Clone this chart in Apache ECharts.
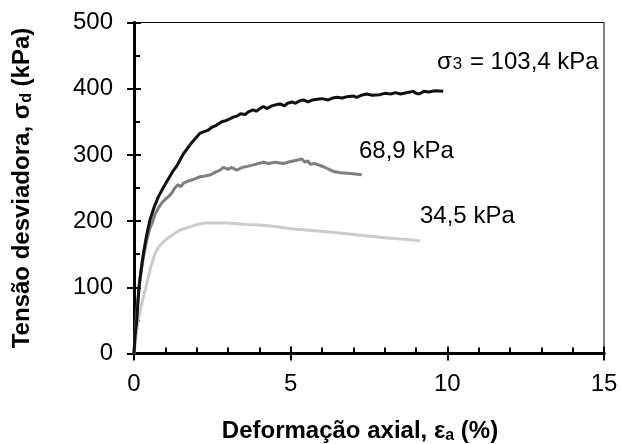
<!DOCTYPE html>
<html>
<head>
<meta charset="utf-8">
<script src="https://cdn.jsdelivr.net/npm/echarts@6/dist/echarts.min.js"></script>
<style>
html,body{margin:0;padding:0;background:#fff;}
#c{width:621px;height:444px;}
</style>
</head>
<body>
<div id="c"></div>
<script>
// ---- data ----
var xTicks = [0, 5, 10, 15];
var yTicks = [0, 100, 200, 300, 400, 500];

var s103x = [0, 0.03, 0.09, 0.16, 0.23, 0.30, 0.40, 0.51, 0.65, 0.78, 0.95, 1.10, 1.25, 1.36, 1.57, 1.80, 2.11, 2.35, 2.50, 2.64, 2.80, 2.95, 3.17, 3.30, 3.40, 3.55, 3.65, 3.80, 3.90, 4.05, 4.13, 4.25, 4.40, 4.55, 4.67, 4.80, 4.90, 5.05, 5.15, 5.30, 5.41, 5.55, 5.70, 5.85, 6.00, 6.20, 6.35, 6.47, 6.65, 6.80, 7.00, 7.10, 7.25, 7.43, 7.60, 7.85, 8.00, 8.20, 8.35, 8.50, 8.70, 8.90, 9.00, 9.10, 9.25, 9.40, 9.60, 9.87];
var s103y = [0, 25, 51, 101, 128, 151, 178, 202, 222, 237, 252, 264, 276, 283, 301, 316, 333, 337, 342, 345, 350, 352, 357, 359, 362, 361, 365, 368, 366, 371, 373, 370, 374, 376, 377, 374, 378, 380, 378, 382, 383, 380, 383, 384, 385, 383, 386, 387, 386, 388, 389, 387, 390, 392, 390, 391, 393, 392, 394, 392, 394, 396, 393, 392, 396, 395, 397, 396];

var s68x = [0, 0.05, 0.12, 0.20, 0.30, 0.40, 0.50, 0.60, 0.67, 0.78, 0.88, 1.00, 1.10, 1.20, 1.30, 1.41, 1.50, 1.57, 1.70, 1.84, 2.00, 2.11, 2.27, 2.45, 2.60, 2.75, 2.85, 3.00, 3.10, 3.28, 3.45, 3.65, 3.90, 4.13, 4.30, 4.50, 4.77, 5.00, 5.20, 5.36, 5.45, 5.55, 5.62, 5.75, 5.94, 6.10, 6.36, 6.60, 6.90, 7.27];
var s68y = [0, 40, 80, 115, 145, 170, 188, 200, 210, 220, 227, 233, 237, 242, 250, 255, 252, 257, 260, 262, 265, 267, 268, 270, 274, 277, 281, 278, 281, 277, 281, 283, 286, 289, 287, 289, 287, 290, 292, 294, 289, 291, 286, 287, 284, 281, 275, 273, 272, 270];

var s34x = [0, 0.04, 0.09, 0.15, 0.20, 0.30, 0.37, 0.46, 0.55, 0.67, 0.80, 0.95, 1.10, 1.31, 1.50, 1.70, 1.84, 2.01, 2.27, 2.60, 2.97, 3.30, 3.60, 4.03, 4.50, 5.09, 5.60, 6.15, 6.80, 7.53, 8.00, 8.50, 8.80, 9.12];
var s34y = [0, 15, 35, 55, 65, 86, 98, 116, 133, 151, 162, 169, 175, 182, 187, 190, 192, 195, 197, 197, 197, 196, 195, 194, 192, 188, 186, 184, 181, 177, 175, 173, 172, 170];

var seriesNames = ['34,5 kPa', '68,9 kPa', '103,4 kPa'];
var seriesColors = ['#cccccc', '#7f7f7f', '#111111'];

function pairs(xs, ys) { return xs.map(function (x, i) { return [x, ys[i]]; }); }

var FONT = 'Liberation Sans, Arial, Helvetica, sans-serif';
var chart = echarts.init(document.getElementById('c'), null, { renderer: 'canvas' });

var gridL = 134, gridR = 17, gridT = 22.5, gridB = 90.5;
var subStyle = { fontFamily: FONT, fontSize: 16, fontWeight: 'bold', color: '#000', verticalAlign: 'bottom', padding: [9, 0, 0, 0] };

// axis with labels + line + outer ticks
function xMain() {
  return {
    type: 'value', min: 0, max: 15, interval: 5, position: 'bottom',
    name: 'Deformação axial, ε{sub|a} (%)',
    nameLocation: 'middle', nameGap: 65,
    nameTextStyle: { fontFamily: FONT, fontSize: 24, fontWeight: 'bold', color: '#000', padding: [0, 18, 0, 0], rich: { sub: subStyle } },
    axisLine: { show: true, onZero: false, lineStyle: { color: '#000', width: 3 } },
    axisTick: { show: true, inside: false, length: 7, lineStyle: { color: '#000', width: 2 } },
    minorTick: { show: false },
    axisLabel: { show: true, margin: 19, fontFamily: FONT, fontSize: 24, color: '#000',
      formatter: function (v) { return xTicks.indexOf(v) >= 0 ? String(v) : ''; } },
    splitLine: { show: false }
  };
}
// axis with inner ticks + minor ticks only
function xInner() {
  return {
    type: 'value', min: 0, max: 15, interval: 5, position: 'bottom',
    axisLine: { show: true, onZero: false, lineStyle: { color: '#000', width: 3 } },
    axisTick: { show: true, inside: true, length: 7, lineStyle: { color: '#000', width: 2 } },
    minorTick: { show: true, splitNumber: 5, length: 6, lineStyle: { color: '#000', width: 2 } },
    axisLabel: { show: false },
    splitLine: { show: false }
  };
}
function yMain() {
  return {
    type: 'value', min: 0, max: 500, interval: 100, position: 'left',
    name: 'Tensão desviadora, σ{sub|d} (kPa)',
    nameLocation: 'middle', nameGap: 99,
    nameTextStyle: { fontFamily: FONT, fontSize: 24, fontWeight: 'bold', color: '#000', rich: { sub: subStyle } },
    axisLine: { show: true, onZero: false, lineStyle: { color: '#000', width: 3 } },
    axisTick: { show: true, inside: false, length: 7, lineStyle: { color: '#000', width: 2 } },
    minorTick: { show: false },
    axisLabel: { show: true, margin: 21, fontFamily: FONT, fontSize: 24, color: '#000',
      formatter: function (v) { return yTicks.indexOf(v) >= 0 ? String(v) : ''; } },
    splitLine: { show: false }
  };
}
function yInner() {
  return {
    type: 'value', min: 0, max: 500, interval: 100, position: 'left',
    axisLine: { show: true, onZero: false, lineStyle: { color: '#000', width: 3 } },
    axisTick: { show: true, inside: true, length: 7, lineStyle: { color: '#000', width: 2 } },
    minorTick: { show: true, splitNumber: 2, length: 6, lineStyle: { color: '#000', width: 2 } },
    axisLabel: { show: false },
    splitLine: { show: false }
  };
}

var series = [[s34x, s34y], [s68x, s68y], [s103x, s103y]].map(function (d, i) {
  return {
    name: seriesNames[i], type: 'line', data: pairs(d[0], d[1]),
    xAxisIndex: 0, yAxisIndex: 0, showSymbol: false, symbol: 'none', smooth: false,
    lineStyle: { color: seriesColors[i], width: 3 }, z: 3 + i, animation: false
  };
});

var option = {
  animation: false,
  backgroundColor: '#fff',
  grid: { left: gridL, right: gridR, top: gridT, bottom: gridB, containLabel: false, outerBoundsMode: 'none',
    show: true, borderColor: '#000', borderWidth: 1, backgroundColor: 'transparent' },
  xAxis: [xMain(), xInner()],
  yAxis: [yMain(), yInner()],
  series: series,
  graphic: [
    { type: 'text', left: 437, top: 50, z: 10,
      style: { text: 'σ{s|3} = 103,4 kPa', fill: '#000', font: '24px ' + FONT,
        rich: { s: { fontFamily: FONT, fontSize: 17, fill: '#000', padding: [5, 1, 0, 1] } } } },
    { type: 'text', left: 359, top: 139, z: 10,
      style: { text: '68,9 kPa', fill: '#000', font: '24px ' + FONT } },
    { type: 'text', left: 420, top: 204, z: 10,
      style: { text: '34,5 kPa', fill: '#000', font: '24px ' + FONT } }
  ]
};
chart.setOption(option);
</script>
</body>
</html>
